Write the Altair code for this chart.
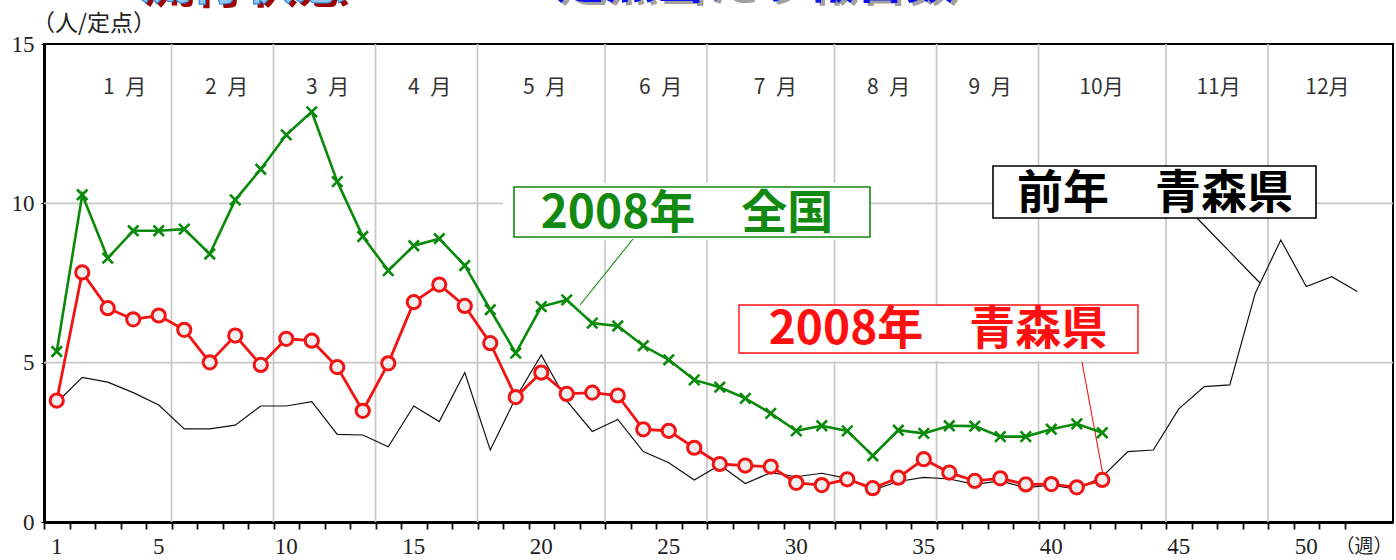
import altair as alt
import pandas as pd

# ---------------- data ----------------
weeks_prev = list(range(1, 53))
aomori_prev = [3.75, 4.54, 4.39, 4.06, 3.67, 2.92, 2.92, 3.04, 3.64, 3.64,
               3.78, 2.75, 2.73, 2.36, 3.64, 3.15, 4.69, 2.26, 3.90, 5.24,
               3.80, 2.84, 3.22, 2.21, 1.86, 1.32, 1.79, 1.21, 1.55, 1.42,
               1.53, 1.37, 1.00, 1.27, 1.40, 1.35, 1.18, 1.29, 1.08, 1.16,
               1.03, 1.42, 2.21, 2.26, 3.55, 4.25, 4.30, 7.18, 8.85, 7.39,
               7.70, 7.23]

weeks_2008 = list(range(1, 43))
national_2008 = [5.35, 10.27, 8.28, 9.14, 9.14, 9.19, 8.41, 10.11, 11.07, 12.15,
                 12.87, 10.68, 8.96, 7.89, 8.67, 8.89, 8.05, 6.66, 5.30, 6.76,
                 6.97, 6.24, 6.15, 5.53, 5.09, 4.46, 4.23, 3.88, 3.41, 2.86,
                 3.02, 2.86, 2.08, 2.88, 2.78, 3.02, 3.01, 2.68, 2.68, 2.91,
                 3.08, 2.80]
aomori_2008 = [3.81, 7.83, 6.71, 6.36, 6.48, 6.03, 5.01, 5.85, 4.93, 5.75,
               5.69, 4.86, 3.49, 4.98, 6.90, 7.45, 6.78, 5.61, 3.92, 4.69,
               4.02, 4.06, 3.97, 2.91, 2.86, 2.33, 1.82, 1.77, 1.74, 1.23,
               1.16, 1.34, 1.06, 1.39, 1.97, 1.55, 1.29, 1.37, 1.18, 1.19,
               1.09, 1.32]

y_ticks = [0, 5, 10, 15]
y_grid = [5, 10]
x_label_weeks = [1, 5, 10, 15, 20, 25, 30, 35, 40, 45, 50]
month_names = ["1\u2002月", "2\u2002月", "3\u2002月", "4\u2002月", "5\u2002月", "6\u2002月",
               "7\u2002月", "8\u2002月", "9\u2002月", "10月", "11月", "12月"]
month_label_weeks = [3.66, 7.66, 11.62, 15.62, 20.13, 24.68, 29.18, 33.62, 37.6, 41.97, 46.56, 50.83]
month_last_weeks = [5, 9, 13, 17, 22, 26, 31, 35, 39, 44, 48]

label_national = "2008年　全国"
label_aomori = "2008年　青森県"
label_prev = "前年　青森県"
y_unit = "（人/定点）"
x_unit = "（週）"

# ---------------- layout ----------------
W, H = 1349, 478
GREEN = "#0a8a0a"
RED = "#f01414"
GRID = "#c8c8c8"
SERIF = "Liberation Serif"
CJK = "Noto Sans CJK JP"

xs = alt.Scale(domain=[0.5, 53.4], nice=False, zero=False)
ys = alt.Scale(domain=[0, 15], nice=False)

XAX = alt.Axis(values=[k + 0.5 for k in range(52)], labels=False, ticks=True,
               tickSize=7, tickColor="#111", tickWidth=1.8, domainColor="#000",
               domainWidth=3, grid=False, title=None)
YAX = alt.Axis(values=y_ticks, grid=False, tickSize=3, tickColor="#000",
               domainColor="#000", domainWidth=3, labelFont=SERIF,
               labelFontSize=23, labelColor="#222", labelPadding=7, title=None)


def X(field):
    return alt.X(field, scale=xs, axis=XAX)


def Y(field):
    return alt.Y(field, scale=ys, axis=YAX)


df_prev = pd.DataFrame({"week": weeks_prev, "value": aomori_prev})
df_nat = pd.DataFrame({"week": weeks_2008, "value": national_2008})
df_aom = pd.DataFrame({"week": weeks_2008, "value": aomori_2008})
df_one = pd.DataFrame({"d": [0]})

hgrid = alt.Chart(pd.DataFrame({"v": y_grid})).mark_rule(color=GRID, strokeWidth=1.7).encode(
    y=Y("v:Q"))
vgrid = alt.Chart(pd.DataFrame({"b": [m + 0.5 for m in month_last_weeks]})).mark_rule(
    color=GRID, strokeWidth=1.7).encode(x=X("b:Q"))

months = alt.Chart(pd.DataFrame({"pos": month_label_weeks, "name": month_names})).mark_text(
    font=CJK, fontSize=21, color="#333", baseline="middle", align="center").encode(
    x=X("pos:Q"), y=alt.value(44), text="name:N")

xlabels = alt.Chart(pd.DataFrame({"w": x_label_weeks})).mark_text(
    font=SERIF, fontSize=23, color="#222", baseline="middle", align="center").encode(
    x=X("w:Q"), y=alt.value(H + 25), text="w:Q")

xunit = alt.Chart(df_one).mark_text(font=CJK, fontSize=19, color="#222", baseline="middle",
                                    align="center", text=x_unit).encode(
    x=alt.value(1320), y=alt.value(H + 25))
yunit = alt.Chart(df_one).mark_text(font=CJK, fontSize=23, color="#222", baseline="middle",
                                    align="left", text=y_unit).encode(
    x=alt.value(-12), y=alt.value(-20))


def annotation(text, color, box, bg, text_xy, line, border_w):
    x0, y0, x1, y1 = box
    bx0, by0, bx1, by1 = bg
    lx0, ly0, lx1, ly1 = line
    back = alt.Chart(df_one).mark_rect(fill="white").encode(
        x=alt.value(bx0), x2=alt.value(bx1), y=alt.value(by0), y2=alt.value(by1))
    frame = alt.Chart(df_one).mark_rect(fill="white", stroke=color, strokeWidth=border_w).encode(
        x=alt.value(x0), x2=alt.value(x1), y=alt.value(y0), y2=alt.value(y1))
    label = alt.Chart(df_one).mark_text(font=CJK, fontSize=46, fontWeight="bold", color=color,
                                        align="center", baseline="middle", text=text).encode(
        x=alt.value(text_xy[0]), y=alt.value(text_xy[1]))
    conn = alt.Chart(df_one).mark_rule(color=color, strokeWidth=1.1).encode(
        x=alt.value(lx0), y=alt.value(ly0), x2=alt.value(lx1), y2=alt.value(ly1))
    return back, frame, label, conn


ann_nat = annotation(label_national, "#128a12", (470, 143, 826, 193), (459, 139, 814, 196),
                     (643, 170), (589, 195, 536, 261), 1.6)
ann_aom = annotation(label_aomori, "#ff1010", (695, 261, 1094, 309), (695, 261, 1094, 317),
                     (894, 286), (1038, 318, 1059, 431), 1.4)
ann_prev = annotation(label_prev, "#000000", (949, 122, 1272, 174), (949, 122, 1272, 174),
                      (1111, 150), (1153, 174, 1216, 239), 1.6)

prev_line = alt.Chart(df_prev).mark_line(color="#111", strokeWidth=1.2).encode(
    x=X("week:Q"), y=Y("value:Q"))

nat_line = alt.Chart(df_nat).mark_line(color=GREEN, strokeWidth=2.6).encode(
    x=X("week:Q"), y=Y("value:Q"))
nat_pts = alt.Chart(df_nat).mark_point(shape="M-1,-1L1,1M-1,1L1,-1", filled=False, stroke=GREEN,
                                       strokeWidth=2.6, size=110, opacity=1).encode(
    x=X("week:Q"), y=Y("value:Q"))

aom_line = alt.Chart(df_aom).mark_line(color=RED, strokeWidth=2.8).encode(
    x=X("week:Q"), y=Y("value:Q"))
aom_pts = alt.Chart(df_aom).mark_point(shape="circle", filled=True, fill="#eeeeee", stroke=RED,
                                       strokeWidth=3, size=175, opacity=1).encode(
    x=X("week:Q"), y=Y("value:Q"))

# cut-off title fragments at the very top
t_left_shadow = alt.Chart(df_one).mark_text(font=CJK, fontSize=52, fontWeight="bold", color="#a00000",
                                            align="left", baseline="alphabetic", text="流行状態").encode(
    x=alt.value(98), y=alt.value(-41))
t_left = alt.Chart(df_one).mark_text(font=CJK, fontSize=52, fontWeight="bold", fill="#90c8f0",
                                     stroke="#2a86e0", strokeWidth=1.2,
                                     align="left", baseline="alphabetic", text="流行状態").encode(
    x=alt.value(94), y=alt.value(-45))
t_right_shadow = alt.Chart(df_one).mark_text(font=CJK, fontSize=50, fontWeight="bold", color="#a0a0a0",
                                             align="left", baseline="alphabetic",
                                             text="定点当たり報告数").encode(
    x=alt.value(515), y=alt.value(-43))
t_right = alt.Chart(df_one).mark_text(font=CJK, fontSize=50, fontWeight="bold", color="#1010f0",
                                      align="left", baseline="alphabetic",
                                      text="定点当たり報告数").encode(
    x=alt.value(511), y=alt.value(-46))

chart = alt.layer(
    hgrid, vgrid,
    ann_nat[0], ann_aom[0], ann_prev[0],
    ann_nat[1], ann_aom[1], ann_prev[1],
    ann_nat[2], ann_aom[2], ann_prev[2],
    ann_nat[3], ann_aom[3], ann_prev[3],
    prev_line, nat_line, nat_pts, aom_line, aom_pts,
    months, xlabels, xunit, yunit,
    t_left_shadow, t_left, t_right_shadow, t_right,
).properties(
    width=W, height=H,
    padding={"left": 44, "top": 44, "right": 3, "bottom": 38},
    autosize=alt.AutoSizeParams(type="none"),
    background="white",
).configure_view(stroke="#000", strokeWidth=2)

chart.save("out.html", embed_options={"renderer": "svg", "actions": False})
